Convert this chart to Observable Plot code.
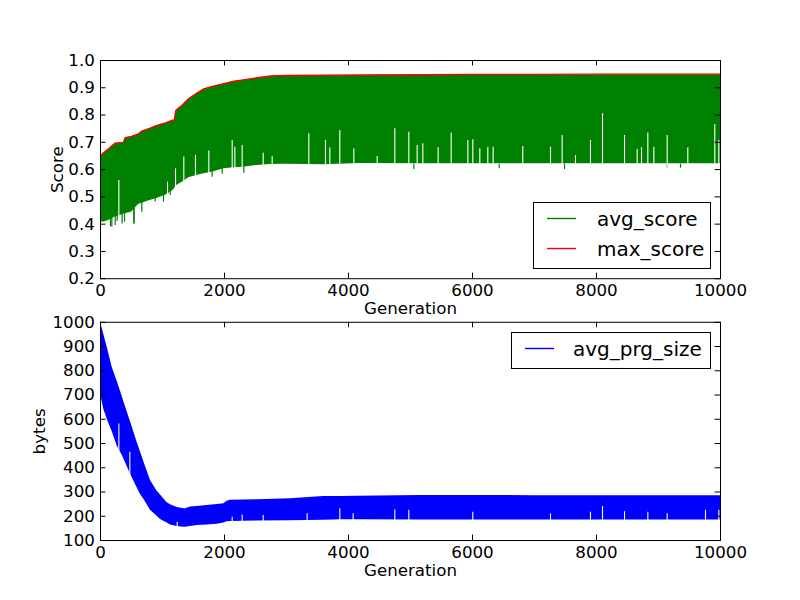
<!DOCTYPE html>
<html><head><meta charset="utf-8">
<script src="https://cdn.jsdelivr.net/npm/d3@7"></script>
<script src="https://cdn.jsdelivr.net/npm/@observablehq/plot@0.6"></script>
<style>
body{margin:0;background:#fff;}
#wrap{position:relative;width:800px;height:600px;font-family:"DejaVu Sans";background:#fff;}
</style></head><body><div id="wrap"></div>
<script>
// ---------- data ----------
const xTicks = [0, 2000, 4000, 6000, 8000, 10000];
const scoreTicks = [0.2, 0.3, 0.4, 0.5, 0.6, 0.7, 0.8, 0.9, 1.0];
const sizeTicks = [100, 200, 300, 400, 500, 600, 700, 800, 900, 1000];

// top panel: generation samples with max_score and band of avg_score
const scoreGen = [0, 50, 130, 236, 300, 371, 398, 500, 613, 666, 800, 908, 1050, 1150, 1194, 1215, 1311, 1392, 1424, 1550, 1666, 1800, 1989, 2150, 2300, 2527, 2742, 3000, 3600, 4200, 5161, 6000, 7000, 8000, 9000, 10000];
const maxScore = [0.650, 0.662, 0.676, 0.697, 0.699, 0.700, 0.717, 0.722, 0.731, 0.741, 0.752, 0.762, 0.771, 0.780, 0.783, 0.817, 0.835, 0.853, 0.860, 0.880, 0.896, 0.905, 0.915, 0.924, 0.929, 0.937, 0.943, 0.945, 0.946, 0.947, 0.948, 0.949, 0.949, 0.950, 0.950, 0.950];
const avgScoreHigh = [0.648, 0.660, 0.674, 0.695, 0.697, 0.698, 0.715, 0.720, 0.729, 0.739, 0.750, 0.760, 0.769, 0.778, 0.781, 0.815, 0.833, 0.851, 0.858, 0.878, 0.894, 0.903, 0.913, 0.922, 0.927, 0.935, 0.941, 0.943, 0.944, 0.945, 0.946, 0.947, 0.947, 0.948, 0.948, 0.948];
const avgScoreLow = [0.410, 0.407, 0.413, 0.426, 0.430, 0.436, 0.438, 0.444, 0.472, 0.477, 0.487, 0.494, 0.506, 0.520, 0.530, 0.540, 0.553, 0.565, 0.570, 0.578, 0.585, 0.590, 0.603, 0.607, 0.609, 0.615, 0.619, 0.620, 0.618, 0.622, 0.621, 0.621, 0.621, 0.621, 0.621, 0.621];
// downward excursions of avg_score below the band
const scoreDipGen = [161, 183, 237, 269, 349, 387, 537, 543, 667, 882, 1016, 1124, 1801, 1963, 2312, 5054, 6430, 7484, 9140, 9355];
const scoreDipVal = [0.391, 0.389, 0.395, 0.410, 0.401, 0.407, 0.401, 0.401, 0.444, 0.481, 0.481, 0.505, 0.572, 0.583, 0.587, 0.600, 0.603, 0.600, 0.603, 0.605];
// white gaps (generations where avg_score stayed high)
const scoreGapGen = [296, 1081, 1210, 1344, 1532, 1747, 2124, 2167, 2285, 2624, 2769, 3360, 3629, 3699, 3860, 4086, 4462, 4747, 4973, 5107, 5199, 5446, 5656, 5925, 6005, 6118, 6247, 6333, 6811, 7258, 7446, 7661, 7903, 8097, 8452, 8656, 8726, 8828, 8925, 9140, 9473, 9908, 9973];
const scoreGapTop = [0.560, 0.554, 0.603, 0.646, 0.652, 0.668, 0.707, 0.682, 0.688, 0.660, 0.648, 0.731, 0.707, 0.679, 0.743, 0.676, 0.648, 0.750, 0.737, 0.688, 0.695, 0.680, 0.734, 0.707, 0.709, 0.676, 0.682, 0.682, 0.685, 0.682, 0.725, 0.651, 0.707, 0.805, 0.725, 0.674, 0.680, 0.734, 0.682, 0.725, 0.680, 0.765, 0.707];

// bottom panel: avg_prg_size band
const sizeGen = [0, 54, 108, 188, 269, 349, 376, 484, 591, 645, 699, 806, 914, 968, 1075, 1129, 1237, 1344, 1371, 1452, 1559, 1720, 1882, 1989, 2043, 2097, 2527, 3064, 3602, 3871, 4140, 5160, 6000, 7000, 8000, 9000, 10000];
const sizeHigh = [1000, 950, 897, 815, 757, 695, 672, 590, 505, 465, 425, 347, 303, 288, 256, 247, 236, 231, 231, 238, 240, 244, 249, 252, 262, 266, 268, 272, 281, 282, 283, 286, 286, 285, 285, 285, 285];
const sizeLow = [705, 640, 600, 550, 490, 452, 437, 373, 318, 290, 270, 225, 200, 187, 172, 164, 158, 155, 155, 158, 162, 164, 167, 172, 177, 178, 180, 181, 184, 186, 186, 185, 185, 185, 185, 185, 185];
const sizeGapGen = [296, 473, 1237, 2124, 2285, 2624, 3333, 3860, 4075, 4747, 4973, 6005, 7258, 7903, 8097, 8452, 8828, 9140, 9758, 9973];
const sizeGapTop = [581, 464, 175, 196, 205, 203, 210, 231, 210, 227, 225, 217, 210, 217, 240, 219, 217, 210, 225, 225];

// ---------- build tables ----------
const scoreRows = scoreGen.map((g, i) => ({g, max: maxScore[i], hi: avgScoreHigh[i], lo: avgScoreLow[i]}));
const scoreDips = scoreDipGen.map((g, i) => ({g, v: scoreDipVal[i]}));
const scoreGaps = scoreGapGen.map((g, i) => ({g, v: scoreGapTop[i]}));
const sizeRows = sizeGen.map((g, i) => ({g, hi: sizeHigh[i], lo: sizeLow[i]}));
const sizeGaps = sizeGapGen.map((g, i) => ({g, v: sizeGapTop[i]}));

const W = 800, H = 600, ML = 100, MR = 80;
const FH = 218.2, TK = 5.5, FONT = 16.7;
const IW = W - ML - MR;

const baseStyle = {background: "transparent", overflow: "visible", fontFamily: "DejaVu Sans", fontSize: FONT + "px", color: "black", position: "absolute", left: "0px", top: "0px"};

function frameMarks(yTicks, fmt, yLabel, yLabelDx) {
  return [
    Plot.ruleY(yTicks, {insetRight: IW - TK, stroke: "black"}),
    Plot.ruleY(yTicks, {insetLeft: IW - TK, stroke: "black"}),
    Plot.ruleX(xTicks, {insetBottom: FH - TK, stroke: "black"}),
    Plot.ruleX(xTicks, {insetTop: FH - TK, stroke: "black"}),
    Plot.frame({stroke: "black", strokeWidth: 1}),
    Plot.axisX(xTicks, {tickSize: 0, tickPadding: 5.6, tickFormat: d => String(d), label: null, fontSize: FONT}),
    Plot.axisY(yTicks, {tickSize: 0, tickPadding: 5.6, tickFormat: fmt, label: null, fontSize: FONT}),
    Plot.text(["Generation"], {text: d => d, frameAnchor: "bottom", lineAnchor: "middle", textAnchor: "middle", dy: 30, fontSize: FONT}),
    Plot.text([yLabel], {text: d => d, frameAnchor: "left", lineAnchor: "middle", textAnchor: "middle", rotate: -90, dx: yLabelDx, fontSize: FONT})
  ];
}

const topPlot = Plot.plot({
  width: W, height: H,
  marginLeft: ML, marginRight: MR, marginTop: 60, marginBottom: H - 60 - FH,
  style: baseStyle,
  x: {domain: [0, 10000], axis: null},
  y: {domain: [0.2, 1.0], axis: null},
  marks: [
    Plot.areaY(scoreRows, {x: "g", y1: "lo", y2: "hi", fill: "#008000"}),
    Plot.ruleX(scoreDips, {x: "g", y1: "v", y2: 0.62, stroke: "#008000", strokeWidth: 1.2}),
    Plot.ruleX(scoreGaps, {x: "g", y1: 0.2, y2: "v", stroke: "white", strokeWidth: 1.1}),
    Plot.line(scoreRows, {x: "g", y: "max", stroke: "#ff0000", strokeWidth: 1.4}),
    ...frameMarks(scoreTicks, d => d.toFixed(1), "Score", -43)
  ]
});

const bottomPlot = Plot.plot({
  width: W, height: H,
  marginLeft: ML, marginRight: MR, marginTop: H - 60 - FH, marginBottom: 60,
  style: baseStyle,
  x: {domain: [0, 10000], axis: null},
  y: {domain: [100, 1000], axis: null},
  marks: [
    Plot.areaY(sizeRows, {x: "g", y1: "lo", y2: "hi", fill: "#0000ff"}),
    Plot.ruleX(sizeGaps, {x: "g", y1: 100, y2: "v", stroke: "white", strokeWidth: 1.1}),
    ...frameMarks(sizeTicks, d => String(d), "bytes", -61)
  ]
});

const wrap = document.getElementById("wrap");
wrap.appendChild(topPlot);
wrap.appendChild(bottomPlot);

// ---------- legends ----------
function legend(x, y, w, h, items, lineX0, textX, rowY) {
  const svg = d3.select(wrap).append("svg")
    .attr("width", W).attr("height", H)
    .style("position", "absolute").style("left", "0px").style("top", "0px")
    .style("font-family", "DejaVu Sans");
  svg.append("rect").attr("x", x).attr("y", y).attr("width", w).attr("height", h)
    .attr("fill", "white").attr("stroke", "black").attr("stroke-width", 1);
  items.forEach((it, i) => {
    const cy = rowY[i];
    svg.append("line").attr("x1", lineX0).attr("x2", lineX0 + 29).attr("y1", cy).attr("y2", cy)
      .attr("stroke", it.color).attr("stroke-width", 1.4);
    svg.append("text").attr("x", textX).attr("y", cy).attr("dy", "0.35em")
      .attr("font-size", 20).attr("fill", "black").text(it.name);
  });
}
legend(533.5, 202.5, 177, 66, [{name: "avg_score", color: "#008000"}, {name: "max_score", color: "#ff0000"}], 547, 597, [218.5, 248.5]);
legend(511.5, 332.5, 199, 36, [{name: "avg_prg_size", color: "#0000ff"}], 525, 573, [348.5]);
</script></body></html>
